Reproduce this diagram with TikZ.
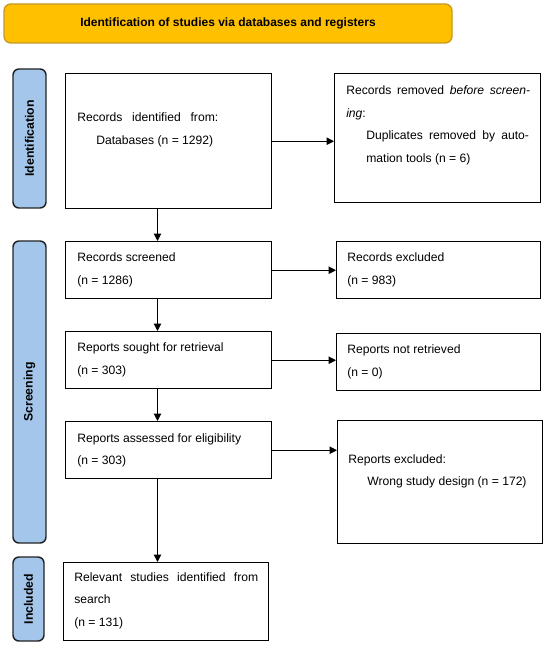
\documentclass[tikz,border=0pt]{standalone}
\usepackage{fontspec}
\setmainfont{Liberation Sans}
\usetikzlibrary{arrows.meta}
\definecolor{gold}{HTML}{FFC000}
\definecolor{goldline}{HTML}{C49A22}
\definecolor{labblue}{HTML}{A3C6EA}
\definecolor{labline}{HTML}{222222}
\begin{document}
\begin{tikzpicture}[x=0.75pt,y=-0.75pt,
  box/.style={draw=black,line width=1.1pt,fill=white,inner sep=0pt,anchor=north west},
  lab/.style={draw=labline,line width=1.1pt,fill=labblue,rounded corners=4.5pt,inner sep=0pt,
    font=\fontsize{9.2}{11}\selectfont\bfseries},
  txt/.style={inner sep=0pt,anchor=west,align=left,font=\fontsize{9.1}{16.9}\selectfont},
  arr/.style={line width=0.75pt,-{Triangle[length=5.5pt,width=5.5pt]}}]
\useasboundingbox (0,0) rectangle (550,648);
\node[draw=goldline,line width=1pt,fill=gold,rounded corners=5pt,minimum width=448*0.75pt,minimum height=39*0.75pt,inner sep=0pt,font=\fontsize{9}{11}\selectfont\bfseries] (title) at (228,23.5) {Identification of studies via databases and registers};
% phase labels
\node[lab,rotate=90,minimum width=139*0.75pt,minimum height=33*0.75pt] (idlab) at (29.5,138.5) {Identification};
\node[lab,rotate=90,minimum width=302*0.75pt,minimum height=33*0.75pt] (sclab) at (29.5,392) {Screening};
\node[lab,rotate=90,minimum width=84*0.75pt,minimum height=31*0.75pt] (inlab) at (28.5,599) {Included};
% boxes
\node[box,minimum width=206*0.75pt,minimum height=135*0.75pt] (b1) at (65,73) {};
\node[box,minimum width=206*0.75pt,minimum height=129*0.75pt] (r1) at (334,73) {};
\node[box,minimum width=206*0.75pt,minimum height=57*0.75pt] (b2) at (65,241) {};
\node[box,minimum width=204*0.75pt,minimum height=57*0.75pt] (r2) at (336,241) {};
\node[box,minimum width=206*0.75pt,minimum height=57*0.75pt] (b3) at (65,331) {};
\node[box,minimum width=204*0.75pt,minimum height=57*0.75pt] (r3) at (336,333) {};
\node[box,minimum width=206*0.75pt,minimum height=57*0.75pt] (b4) at (65,421) {};
\node[box,minimum width=205*0.75pt,minimum height=123*0.75pt] (r4) at (337,420) {};
\node[box,minimum width=205*0.75pt,minimum height=78*0.75pt] (b5) at (63,562) {};
% texts
\node[txt] (t1) at (77,130) {\makebox[105.75pt][s]{Records identified from:}\\\hspace*{14.25pt}Databases (n = 1292)};
\node[txt] (tr1) at (346,125.5) {\makebox[138pt][s]{Records removed \textit{before screen-}}\\\textit{ing}:\\\hspace*{15pt}\makebox[122pt][s]{Duplicates removed by auto-}\\\hspace*{15pt}mation tools (n = 6)};
\node[txt] (t2) at (77,270) {Records screened\\(n = 1286)};
\node[txt] (tr2) at (347,270) {Records excluded\\(n = 983)};
\node[txt] (t3) at (77,360) {Reports sought for retrieval\\(n = 303)};
\node[txt] (tr3) at (347,362) {Reports not retrieved\\(n = 0)};
\node[txt] (t4) at (77,450.5) {Reports assessed for eligibility\\(n = 303)};
\node[txt] (tr4) at (348,471.5) {Reports excluded:\\\hspace*{14.25pt}Wrong study design (n = 172)};
\node[txt] (t5) at (74,600.5) {\makebox[138pt][s]{Relevant studies identified from}\\search\\(n = 131)};
% connectors
\coordinate (ax) at (157.5,0);
\draw[arr] (b1.east) -- (b1.east -| r1.west);
\draw[arr] (b2.east) -- (b2.east -| r2.west);
\draw[arr] (b3.east) -- (b3.east -| r3.west);
\draw[arr] (b4.east) -- (b4.east -| r4.west);
\draw[arr] (b1.south -| ax) -- (b2.north -| ax);
\draw[arr] (b2.south -| ax) -- (b3.north -| ax);
\draw[arr] (b3.south -| ax) -- (b4.north -| ax);
\draw[arr] (b4.south -| ax) -- (b5.north -| ax);
\end{tikzpicture}
\end{document}
